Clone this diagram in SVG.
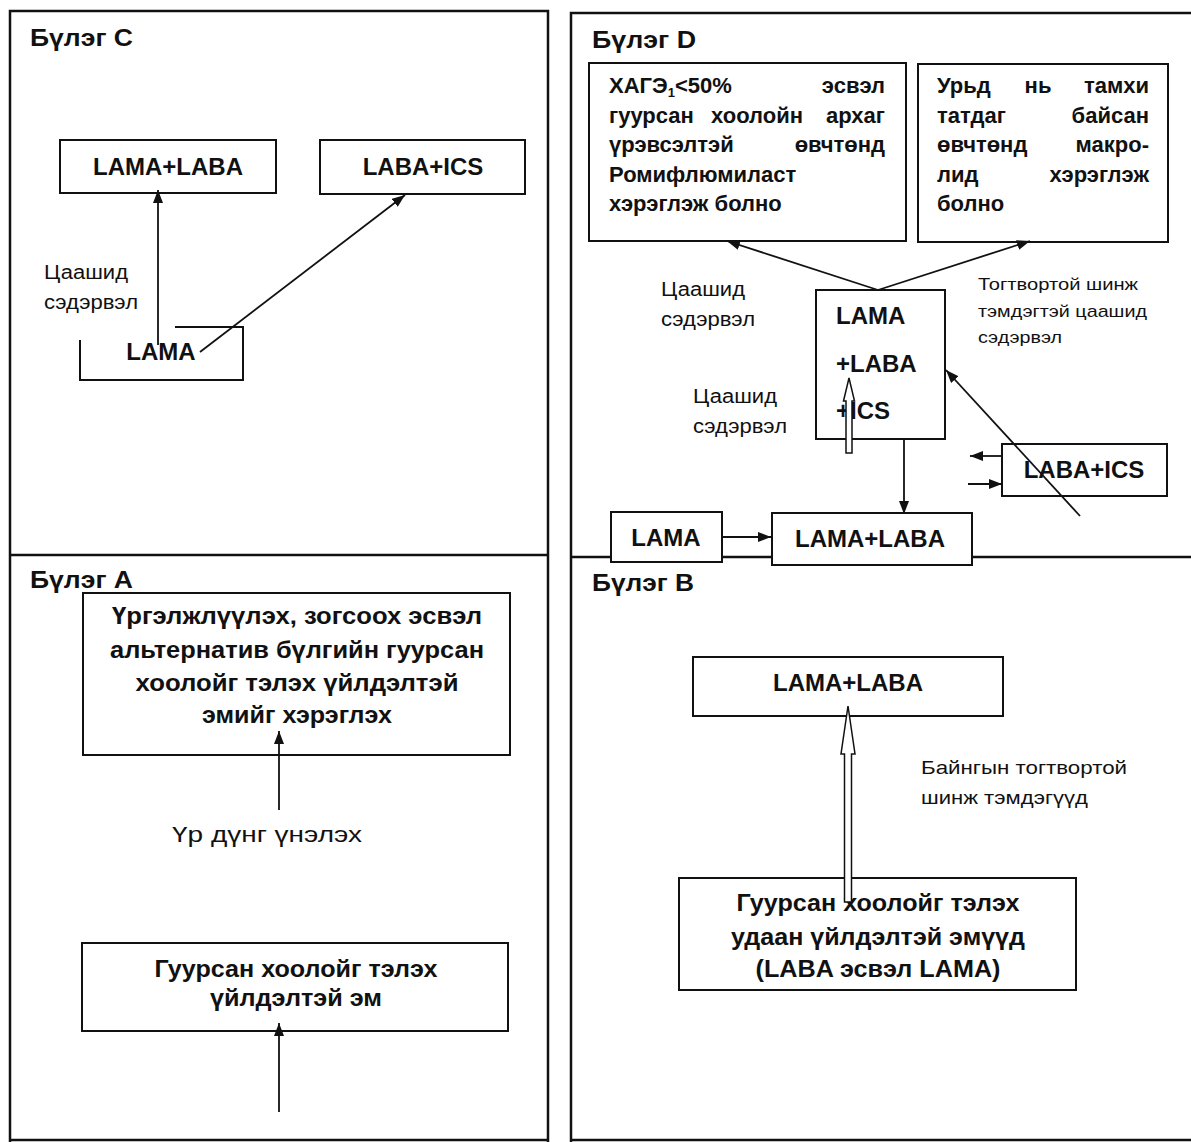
<svg xmlns="http://www.w3.org/2000/svg" width="1191" height="1142" viewBox="0 0 1191 1142">
<style>
.frame{stroke:#111;stroke-width:2.5;fill:none}
.box{fill:#fff;stroke:#111;stroke-width:2}
.t{font-family:"Liberation Sans",Arial,sans-serif;fill:#111}
.b{font-weight:bold}
.c{text-anchor:middle}
.e{text-anchor:end}
.d{font-size:22px}
.conn{stroke:#111;stroke-width:1.8;fill:none}
.hollow{fill:#fff;stroke:#111;stroke-width:1.5}
</style>
<defs>
<marker id="ah" markerUnits="userSpaceOnUse" markerWidth="14" markerHeight="10" refX="13" refY="5" orient="auto">
<path d="M0,0 L13,5 L0,10 z" fill="#111"/>
</marker>
</defs>
<rect width="1191" height="1142" fill="#fff"/>
<g id="frames">
<path class="frame" d="M10,1142 V11 H548 V1142 M10,555 H548 M10,1140 H548"/>
<path class="frame" d="M571,1142 V13 H1191 M571,557 H1191 M571,1140 H1191"/>
</g>

<g id="panel-C">
<g id="c-title"><text class="t b" x="30" y="46" font-size="23" textLength="103" lengthAdjust="spacingAndGlyphs">Бүлэг C</text></g>
<g id="c-lamalaba"><rect class="box" x="60" y="140" width="216" height="53"/><text class="t b c" x="168" y="175" font-size="24">LAMA+LABA</text></g>
<g id="c-labaics"><rect class="box" x="320" y="140" width="205" height="54"/><text class="t b c" x="423" y="175" font-size="24">LABA+ICS</text></g>
<g id="c-label"><text class="t" x="44" y="279" font-size="20" textLength="84" lengthAdjust="spacingAndGlyphs">Цаашид</text><text class="t" x="44" y="309" font-size="20" textLength="94" lengthAdjust="spacingAndGlyphs">сэдэрвэл</text></g>
<g id="c-lama"><path class="box" fill="none" d="M80,340 V380 H243 V327 H175"/><text class="t b c" x="161" y="360" font-size="24">LAMA</text></g>
</g>

<g id="panel-D">
<g id="d-title"><text class="t b" x="592" y="48" font-size="23" textLength="104" lengthAdjust="spacingAndGlyphs">Бүлэг D</text></g>
<g id="d-roflumilast"><rect class="box" x="589" y="63" width="317" height="178"/>
<text class="t b d" x="609" y="93">ХАГЭ<tspan font-size="13" dy="4">1</tspan><tspan dy="-4">&lt;50%</tspan></text><text class="t b e d" x="885" y="93">эсвэл</text>
<text class="t b d" x="609" y="123">гуурсан</text><text class="t b c d" x="757" y="123">хоолойн</text><text class="t b e d" x="885" y="123">архаг</text>
<text class="t b d" x="609" y="152">үрэвсэлтэй</text><text class="t b e d" x="885" y="152">өвчтөнд</text>
<text class="t b d" x="609" y="182">Ромифлюмиласт</text>
<text class="t b d" x="609" y="211">хэрэглэж болно</text>
</g>
<g id="d-macrolide"><rect class="box" x="918" y="64" width="250" height="178"/>
<text class="t b d" x="937" y="93">Урьд</text><text class="t b c d" x="1038" y="93">нь</text><text class="t b e d" x="1149" y="93">тамхи</text>
<text class="t b d" x="937" y="123">татдаг</text><text class="t b e d" x="1149" y="123">байсан</text>
<text class="t b d" x="937" y="152">өвчтөнд</text><text class="t b e d" x="1149" y="152">макро-</text>
<text class="t b d" x="937" y="182">лид</text><text class="t b e d" x="1149" y="182">хэрэглэж</text>
<text class="t b d" x="937" y="211">болно</text>
</g>
<g id="d-label1"><text class="t" x="661" y="296" font-size="20" textLength="84" lengthAdjust="spacingAndGlyphs">Цаашид</text><text class="t" x="661" y="326" font-size="20" textLength="94" lengthAdjust="spacingAndGlyphs">сэдэрвэл</text></g>
<g id="d-label2"><text class="t" x="978" y="290" font-size="17" textLength="160" lengthAdjust="spacingAndGlyphs">Тогтвортой шинж</text><text class="t" x="978" y="317" font-size="17" textLength="169" lengthAdjust="spacingAndGlyphs">тэмдэгтэй цаашид</text><text class="t" x="978" y="343" font-size="17" textLength="84" lengthAdjust="spacingAndGlyphs">сэдэрвэл</text></g>
<g id="d-label3"><text class="t" x="693" y="403" font-size="20" textLength="84" lengthAdjust="spacingAndGlyphs">Цаашид</text><text class="t" x="693" y="433" font-size="20" textLength="94" lengthAdjust="spacingAndGlyphs">сэдэрвэл</text></g>
<g id="d-triple"><rect class="box" x="816" y="290" width="129" height="149"/>
<text class="t b" x="836" y="324" font-size="24">LAMA</text><text class="t b" x="836" y="372" font-size="24">+LABA</text><text class="t b" x="836" y="419" font-size="24">+ICS</text></g>
<g id="d-lama"><rect class="box" x="611" y="512" width="111" height="50"/><text class="t b c" x="666" y="546" font-size="24">LAMA</text></g>
<g id="d-lamalaba"><rect class="box" x="772" y="513" width="200" height="52"/><text class="t b c" x="870" y="547" font-size="24">LAMA+LABA</text></g>
<g id="d-labaics"><rect class="box" x="1002" y="444" width="165" height="52"/><text class="t b c" x="1084" y="478" font-size="24">LABA+ICS</text></g>
</g>

<g id="panel-A">
<g id="a-title"><text class="t b" x="30" y="588" font-size="23" textLength="103" lengthAdjust="spacingAndGlyphs">Бүлэг A</text></g>
<g id="a-continue"><rect class="box" x="83" y="593" width="427" height="162"/>
<text class="t b c" x="297" y="624" font-size="24" textLength="370" lengthAdjust="spacingAndGlyphs">Үргэлжлүүлэх, зогсоох эсвэл</text>
<text class="t b c" x="297" y="658" font-size="24" textLength="374" lengthAdjust="spacingAndGlyphs">альтернатив бүлгийн гуурсан</text>
<text class="t b c" x="297" y="691" font-size="24" textLength="323" lengthAdjust="spacingAndGlyphs">хоолойг тэлэх үйлдэлтэй</text>
<text class="t b c" x="297" y="723" font-size="24" textLength="190" lengthAdjust="spacingAndGlyphs">эмийг хэрэглэх</text></g>
<g id="a-evaluate"><text class="t c" x="267" y="842" font-size="22" textLength="190" lengthAdjust="spacingAndGlyphs">Үр дүнг үнэлэх</text></g>
<g id="a-bronch"><rect class="box" x="82" y="943" width="426" height="88"/>
<text class="t b c" x="296" y="977" font-size="24" textLength="283" lengthAdjust="spacingAndGlyphs">Гуурсан хоолойг тэлэх</text>
<text class="t b c" x="296" y="1006" font-size="24" textLength="172" lengthAdjust="spacingAndGlyphs">үйлдэлтэй эм</text></g>
</g>

<g id="panel-B">
<g id="b-title"><text class="t b" x="592" y="591" font-size="23" textLength="102" lengthAdjust="spacingAndGlyphs">Бүлэг B</text></g>
<g id="b-lamalaba"><rect class="box" x="693" y="657" width="310" height="59"/><text class="t b c" x="848" y="691" font-size="24">LAMA+LABA</text></g>
<g id="b-label"><text class="t" x="921" y="774" font-size="19" textLength="206" lengthAdjust="spacingAndGlyphs">Байнгын тогтвортой</text><text class="t" x="921" y="804" font-size="19" textLength="167" lengthAdjust="spacingAndGlyphs">шинж тэмдэгүүд</text></g>
<g id="b-longacting"><rect class="box" x="679" y="878" width="397" height="112"/>
<text class="t b c" x="878" y="911" font-size="24" textLength="283" lengthAdjust="spacingAndGlyphs">Гуурсан хоолойг тэлэх</text>
<text class="t b c" x="878" y="945" font-size="24" textLength="294" lengthAdjust="spacingAndGlyphs">удаан үйлдэлтэй эмүүд</text>
<text class="t b c" x="878" y="977" font-size="24" textLength="245" lengthAdjust="spacingAndGlyphs">(LABA эсвэл LAMA)</text></g>
</g>

<g id="connectors">
<line class="conn" x1="158" y1="345" x2="158" y2="190" marker-end="url(#ah)"/>
<line class="conn" x1="200" y1="352" x2="405" y2="195" marker-end="url(#ah)"/>
<line class="conn" x1="878" y1="290" x2="727" y2="241" marker-end="url(#ah)"/>
<line class="conn" x1="878" y1="290" x2="1030" y2="241" marker-end="url(#ah)"/>
<polygon class="hollow" points="849,378 854.5,401 852,401 852,453 846,453 846,401 843.5,401"/>
<line class="conn" x1="904" y1="439" x2="904" y2="514" marker-end="url(#ah)"/>
<line class="conn" x1="722" y1="537" x2="771" y2="537" marker-end="url(#ah)"/>
<line class="conn" x1="1002" y1="456" x2="970" y2="456" marker-end="url(#ah)"/>
<line class="conn" x1="968" y1="484" x2="1002" y2="484" marker-end="url(#ah)"/>
<line class="conn" x1="1080" y1="516" x2="946" y2="370" marker-end="url(#ah)"/>
<line class="conn" x1="279" y1="810" x2="279" y2="731" marker-end="url(#ah)"/>
<line class="conn" x1="279" y1="1112" x2="279" y2="1023" marker-end="url(#ah)"/>
<polygon class="hollow" points="848,706 855,754 851.5,754 851.5,902 844.5,902 844.5,754 841,754"/>
</g>
</svg>
